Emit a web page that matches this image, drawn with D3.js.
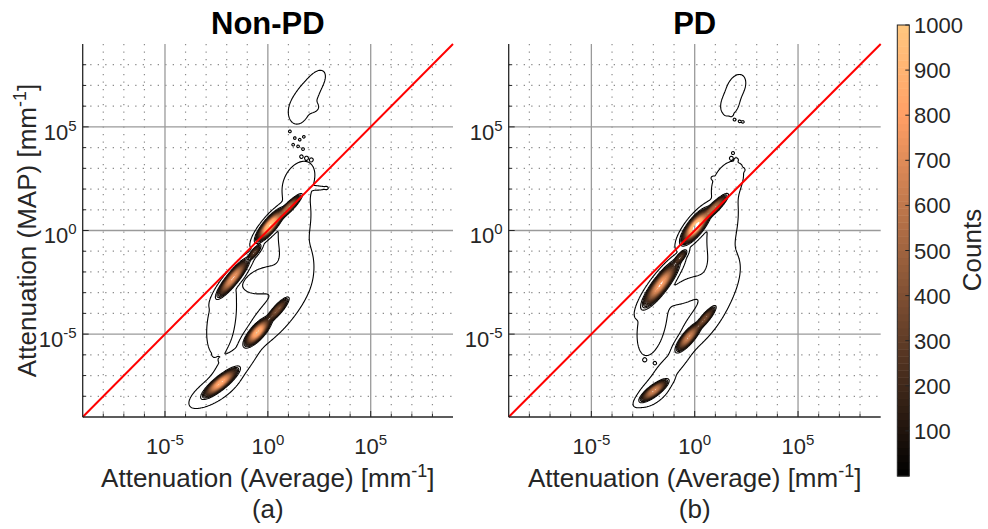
<!DOCTYPE html>
<html>
<head>
<meta charset="utf-8">
<script src="https://cdn.jsdelivr.net/npm/d3@7/dist/d3.min.js"></script>
<style>
body { margin: 0; background: #fff; }
svg text { font-family: "Liberation Sans", Arial, Helvetica, sans-serif; fill: #262626; }
</style>
</head>
<body>
<div id="chart"></div>
<script>
// Density clusters, all in log10 units:
// [centre x, centre y, sigma along, sigma across, angle (deg), peak counts]
var coresNonPD = [
    [0.1, 0.25, 0.5, 0.15, 50, 1000],
    [1.0, 1.1, 0.45, 0.1, 45, 550],
    [-0.65, -1.05, 0.25, 0.08, 50, 250],
    [-1.7, -2.3, 0.6, 0.14, 51, 750],
    [-0.5, -4.9, 0.45, 0.16, 48, 900],
    [0.45, -3.85, 0.42, 0.11, 48, 380],
    [-2.3, -7.35, 0.55, 0.15, 39, 850]
];
var haloNonPD = [
    [-2.25, -4.3, 1.05, 0.4, 80, 4],
    [0.35, -4.1, 1.3, 0.45, 48, 4],
    [1.35, -1.9, 0.75, 0.45, 70, 4],
    [1.3, 0.3, 1.0, 0.45, 80, 4],
    [1.5, 2.4, 0.6, 0.4, 60, 4],
    [-0.2, -2.4, 0.6, 0.35, 20, 4],
    [-1.6, -6.5, 0.7, 0.3, 40, 4],
    [-2.6, -7.7, 0.85, 0.33, 32, 4],
    [1.5, 5.8, 0.4, 0.28, 75, 4],
    [1.9, 6.5, 0.5, 0.3, 60, 4],
    [2.15, 5.95, 0.2, 0.15, 0, 3],
    [2.35, 7.2, 0.35, 0.2, 55, 4],
    [2.4, 2.05, 0.25, 0.05, 0, 5]
];
// isolated specks [x, y]
var specksNonPD = [
    [1.07, 4.78], [1.31, 4.46], [1.55, 4.38], [1.75, 4.52], [1.23, 4.14],
    [1.47, 4.06], [1.71, 3.93], [1.63, 3.57], [1.88, 3.5], [2.12, 3.42],
    [2.85, 2.05], [-2.6, -6.0], [-2.3, -6.25], [-3.3, -8.2], [-3.5, -8.4]
];

var coresPD = [
    [0.05, 0.2, 0.52, 0.18, 52, 1100],
    [0.95, 1.1, 0.45, 0.11, 45, 550],
    [-0.7, -1.3, 0.25, 0.09, 50, 250],
    [-1.65, -2.6, 0.7, 0.18, 53, 800],
    [-0.3, -5.15, 0.45, 0.14, 50, 650],
    [0.5, -4.25, 0.4, 0.1, 50, 380],
    [-1.97, -7.73, 0.42, 0.13, 37, 650]
];
var haloPD = [
    [-2.05, -4.4, 1.0, 0.4, 78, 4],
    [0.4, -4.4, 1.1, 0.4, 52, 4],
    [1.3, -2.3, 0.8, 0.45, 65, 4],
    [1.35, 0.2, 1.1, 0.42, 80, 4],
    [1.6, 2.4, 0.6, 0.38, 60, 4],
    [-0.4, -2.9, 0.6, 0.3, 30, 4],
    [-1.2, -6.6, 0.7, 0.25, 45, 4],
    [-2.0, -7.8, 0.6, 0.3, 38, 4],
    [1.7, 6.1, 0.35, 0.25, 70, 4],
    [2.0, 6.9, 0.4, 0.25, 65, 4]
];
var specksPD = [
    [1.53, 5.67], [1.77, 5.59], [1.93, 5.35], [2.17, 5.27], [2.33, 5.24],
    [1.77, 3.5], [2.01, 3.42], [2.17, 3.09], [2.33, 2.93], [1.85, 3.74],
    [0.88, 2.53], [-2.42, -6.25], [-1.93, -6.4]
];

var panelTitles = ["Non-PD", "PD"];
var panelTags = ["(a)", "(b)"];
var majorExps = [-5, 0, 5];
var minorExps = [-8, -7, -6, -4, -3, -2, -1, 1, 2, 3, 4, 6, 7, 8];
var colorTicks = [100, 200, 300, 400, 500, 600, 700, 800, 900, 1000];
var countLevels = [1].concat(d3.range(25, 1000, 25));

var W = 988, H = 529;
var yTop = 44, yBot = 417;
var panels = [
    {x0: 82.7, x1: 453, cores: coresNonPD, halo: haloNonPD, specks: specksNonPD},
    {x0: 508.7, x1: 880.7, cores: coresPD, halo: haloPD, specks: specksPD}
];

var svg = d3.select("#chart").append("svg")
    .attr("width", W)
    .attr("height", H);

// MATLAB copper colormap
function copper(t) {
    t = Math.max(0, Math.min(1, t));
    return d3.rgb(Math.min(255, 318.75 * t), 199.2 * t, 126.9 * t).toString();
}

// density grid in log space
var lo = -9, hi = 9, step = 0.04;
var nGrid = Math.round((hi - lo) / step);

// shape: 1 = gaussian, >1 flatter top
function addBlobs(vals, blobs, shape) {
    blobs.forEach(function(b) {
        var a = b[4] * Math.PI / 180, ca = Math.cos(a), sa = Math.sin(a);
        var ext = 4.5 * Math.max(b[2], b[3]);
        var i0 = Math.max(0, Math.floor((b[0] - ext - lo) / step));
        var i1 = Math.min(nGrid - 1, Math.ceil((b[0] + ext - lo) / step));
        var j0 = Math.max(0, Math.floor((hi - b[1] - ext) / step));
        var j1 = Math.min(nGrid - 1, Math.ceil((hi - b[1] + ext) / step));
        for (var j = j0; j <= j1; j++) {
            var dy = (hi - (j + 0.5) * step) - b[1];
            for (var i = i0; i <= i1; i++) {
                var dx = (lo + (i + 0.5) * step) - b[0];
                var u = dx * ca + dy * sa, v = -dx * sa + dy * ca;
                var q = u * u / (b[2] * b[2]) + v * v / (b[3] * b[3]);
                vals[j * nGrid + i] += b[5] * Math.exp(-0.5 * Math.pow(q, shape));
            }
        }
    });
}

function supLabel(sel, base, exp, supSize, rise) {
    sel.append("tspan").text(base);
    sel.append("tspan").attr("font-size", supSize).attr("dy", -rise).text(exp);
}

panels.forEach(function(p, k) {
    var x = d3.scaleLog().domain([1e-9, 1e9]).range([p.x0, p.x1]);
    var y = d3.scaleLog().domain([1e-9, 1e9]).range([yBot, yTop]);
    var g = svg.append("g").attr("class", "panel");

    // minor grid (dotted)
    g.selectAll(".minor-x").data(minorExps).enter().append("line")
        .attr("x1", function(d) { return x(Math.pow(10, d)); })
        .attr("x2", function(d) { return x(Math.pow(10, d)); })
        .attr("y1", yTop).attr("y2", yBot)
        .style("stroke", "#8c8c8c").style("stroke-width", 1.2)
        .style("stroke-dasharray", "1.3,6.2");
    g.selectAll(".minor-y").data(minorExps).enter().append("line")
        .attr("y1", function(d) { return y(Math.pow(10, d)); })
        .attr("y2", function(d) { return y(Math.pow(10, d)); })
        .attr("x1", p.x0).attr("x2", p.x1)
        .style("stroke", "#8c8c8c").style("stroke-width", 1.2)
        .style("stroke-dasharray", "1.3,6.2");
    // major grid
    g.selectAll(".major-x").data(majorExps).enter().append("line")
        .attr("x1", function(d) { return x(Math.pow(10, d)); })
        .attr("x2", function(d) { return x(Math.pow(10, d)); })
        .attr("y1", yTop).attr("y2", yBot)
        .style("stroke", "#9a9a9a").style("stroke-width", 1.3);
    g.selectAll(".major-y").data(majorExps).enter().append("line")
        .attr("y1", function(d) { return y(Math.pow(10, d)); })
        .attr("y2", function(d) { return y(Math.pow(10, d)); })
        .attr("x1", p.x0).attr("x2", p.x1)
        .style("stroke", "#9a9a9a").style("stroke-width", 1.3);

    // contours
    var vals = new Float64Array(nGrid * nGrid);
    addBlobs(vals, p.cores, 1.25);
    addBlobs(vals, p.halo, 1);
    addBlobs(vals, p.specks.map(function(s) { return [s[0], s[1], 0.05, 0.05, 0, 2.2]; }), 1);
    var contours = d3.contours().size([nGrid, nGrid]).thresholds(countLevels)(vals);
    var proj = d3.geoTransform({
        point: function(gx, gy) {
            this.stream.point(x(Math.pow(10, lo + gx * step)), y(Math.pow(10, hi - gy * step)));
        }
    });
    var path = d3.geoPath(proj);
    g.append("g").selectAll("path").data(contours).enter().append("path")
        .attr("d", path)
        .style("fill", "none")
        .style("stroke", function(d) { return d.value <= 1 ? "#000" : copper(d.value / 1000); })
        .style("stroke-width", 1.1)
        .style("stroke-linejoin", "round");

    // identity line
    g.append("line")
        .attr("x1", x(1e-9)).attr("y1", y(1e-9))
        .attr("x2", x(1e9)).attr("y2", y(1e9))
        .style("stroke", "#ff0000").style("stroke-width", 2);

    // axes lines and ticks
    var allExps = minorExps.concat(majorExps);
    g.selectAll(".tick-x").data(allExps).enter().append("line")
        .attr("x1", function(d) { return x(Math.pow(10, d)); })
        .attr("x2", function(d) { return x(Math.pow(10, d)); })
        .attr("y1", yBot)
        .attr("y2", function(d) { return yBot - (majorExps.indexOf(d) >= 0 ? 6 : 3.5); })
        .style("stroke", "#262626");
    g.selectAll(".tick-y").data(allExps).enter().append("line")
        .attr("y1", function(d) { return y(Math.pow(10, d)); })
        .attr("y2", function(d) { return y(Math.pow(10, d)); })
        .attr("x1", p.x0)
        .attr("x2", function(d) { return p.x0 + (majorExps.indexOf(d) >= 0 ? 6 : 3.5); })
        .style("stroke", "#262626");
    g.append("line").attr("x1", p.x0).attr("x2", p.x1).attr("y1", yBot).attr("y2", yBot)
        .style("stroke", "#262626").style("stroke-width", 1.3);
    g.append("line").attr("x1", p.x0).attr("x2", p.x0).attr("y1", yTop).attr("y2", yBot)
        .style("stroke", "#262626").style("stroke-width", 1.3);

    // tick labels
    g.selectAll(".xlab").data(majorExps).enter().append("text")
        .attr("x", function(d) { return x(Math.pow(10, d)); })
        .attr("y", 454)
        .attr("text-anchor", "middle")
        .style("font-size", "22px")
        .each(function(d) { supLabel(d3.select(this), "10", String(d), "15px", 9); });
    g.selectAll(".ylab").data(majorExps).enter().append("text")
        .attr("x", p.x0 - 6)
        .attr("y", function(d) { return y(Math.pow(10, d)) + 12.8; })
        .attr("text-anchor", "end")
        .style("font-size", "22px")
        .each(function(d) { supLabel(d3.select(this), "10", String(d), "15px", 9); });

    var cx = (p.x0 + p.x1) / 2;
    // title
    g.append("text")
        .attr("x", cx).attr("y", 34)
        .attr("text-anchor", "middle")
        .style("font-size", "31px").style("font-weight", "bold").style("fill", "#000")
        .text(panelTitles[k]);

    // x label
    var xl = g.append("text")
        .attr("x", cx).attr("y", 487)
        .attr("text-anchor", "middle")
        .style("font-size", "26px");
    xl.append("tspan").text("Attenuation (Average) [mm");
    xl.append("tspan").attr("font-size", "18px").attr("dy", -10).text("-1");
    xl.append("tspan").attr("dy", 10).text("]");

    g.append("text")
        .attr("x", cx).attr("y", 518)
        .attr("text-anchor", "middle")
        .style("font-size", "26px")
        .text(panelTags[k]);

    if (k === 0) {
        var yl = g.append("text")
            .attr("transform", "translate(36," + ((yTop + yBot) / 2) + ") rotate(-90)")
            .attr("text-anchor", "middle")
            .style("font-size", "26px");
        yl.append("tspan").text("Attenuation (MAP) [mm");
        yl.append("tspan").attr("font-size", "18px").attr("dy", -10).text("-1");
        yl.append("tspan").attr("dy", 10).text("]");
    }
});

// Colorbar
var cbX = 897.3, cbW = 12;
var cScale = d3.scaleLinear().domain([0, 1000]).range([476, 25]);
var cb = svg.append("g").attr("class", "colorbar");
var bands = d3.range(0, 1000, 1000 / 64);
cb.selectAll("rect").data(bands).enter().append("rect")
    .attr("x", cbX)
    .attr("width", cbW)
    .attr("y", function(d) { return cScale(d + 1000 / 64); })
    .attr("height", function(d) { return cScale(d) - cScale(d + 1000 / 64) + 0.5; })
    .style("fill", function(d) { return copper((d + 500 / 64) / 1000); });
cb.append("rect")
    .attr("x", cbX).attr("y", cScale(1000))
    .attr("width", cbW).attr("height", cScale(0) - cScale(1000))
    .style("fill", "none").style("stroke", "#262626").style("stroke-width", 1);
cb.selectAll(".cbtick").data(colorTicks).enter().append("line")
    .attr("x1", cbX + cbW - 4).attr("x2", cbX + cbW)
    .attr("y1", function(d) { return cScale(d); })
    .attr("y2", function(d) { return cScale(d); })
    .style("stroke", "#262626");
cb.selectAll(".cblab").data(colorTicks).enter().append("text")
    .attr("x", 914)
    .attr("y", function(d) { return cScale(d) + 8; })
    .style("font-size", "22px")
    .text(function(d) { return d; });
cb.append("text")
    .attr("transform", "translate(981,250) rotate(-90)")
    .attr("text-anchor", "middle")
    .style("font-size", "26px")
    .text("Counts");
</script>
</body>
</html>
